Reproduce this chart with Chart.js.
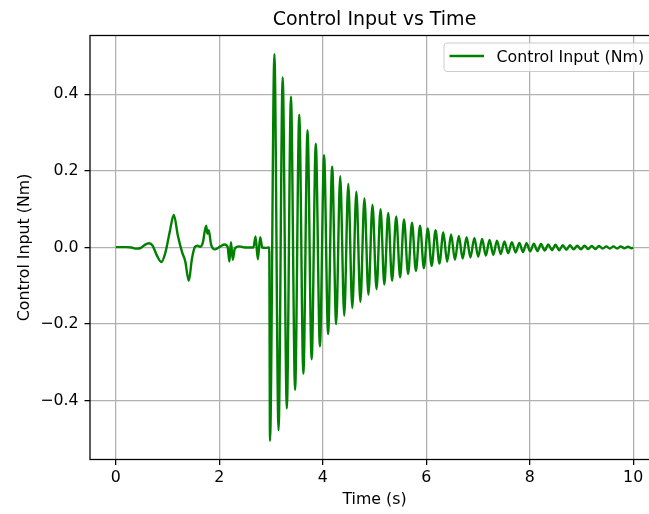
<!DOCTYPE html>
<html>
<head>
<meta charset="utf-8">
<title>Control Input vs Time</title>
<script src="https://cdn.jsdelivr.net/npm/chart.js@4"></script>
<style>
  html, body { margin: 0; padding: 0; background: #fff; overflow: hidden; }
  /* the figure is a little wider than the window; clip it like the original crop */
  #wrap { width: 649px; height: 514px; overflow: hidden; position: relative; }
  #chart { position: absolute; left: 0; top: 0; }
</style>
</head>
<body>
<div id="wrap"><canvas id="chart" width="659" height="514"></canvas></div>
<script>
// ── Data ─────────────────────────────────
// settling phase, 0 – 3 s
const earlyTime  = [0.00, 0.10, 0.20, 0.30, 0.40, 0.47, 0.55, 0.64, 0.71, 0.79, 0.88, 0.96,
                    1.04, 1.12, 1.20, 1.28, 1.34, 1.41, 1.47, 1.53, 1.58, 1.63, 1.68, 1.745,
                    1.77, 1.795, 1.84, 1.92, 2.02, 2.10, 2.16, 2.195, 2.225, 2.26, 2.30, 2.38,
                    2.50, 2.66, 2.70, 2.745, 2.79, 2.83, 2.90, 2.965];
const earlyInput = [0.001, 0.001, 0.001, 0.000, -0.003, -0.002, 0.006, 0.011, 0.005, -0.020, -0.038, -0.012,
                    0.040, 0.085, 0.030, -0.012, -0.035, -0.087, -0.030, 0.002, 0.005, 0.002, 0.012, 0.057,
                    0.036, 0.045, 0.008, -0.005, 0.003, 0.008, 0.002, -0.037, 0.014, -0.032, -0.003, 0.003,
                    0.000, 0.000, 0.029, -0.031, 0.027, 0.000, -0.001, 0.000];

// decaying oscillation after the kick at ~3 s (peaks / troughs)
const oscTime  = [2.98, 3.065, 3.145, 3.225, 3.305, 3.385, 3.465, 3.545, 3.625, 3.705, 3.785, 3.865,
                  3.945, 4.025, 4.103, 4.181, 4.259, 4.337, 4.415, 4.493, 4.571, 4.649, 4.727, 4.805,
                  4.883, 4.961, 5.039, 5.117, 5.19, 5.265, 5.34, 5.42, 5.495, 5.57, 5.65, 5.725,
                  5.80, 5.88, 5.955, 6.03, 6.105, 6.18, 6.255, 6.33, 6.405, 6.48, 6.555, 6.63,
                  6.705, 6.78, 6.855, 6.93, 7.005, 7.08, 7.152, 7.224, 7.296, 7.368, 7.44, 7.512,
                  7.584, 7.656, 7.728, 7.80, 7.87, 7.94, 8.01, 8.08, 8.15, 8.22, 8.29, 8.36,
                  8.43, 8.50, 8.57, 8.64, 8.71, 8.78, 8.85, 8.92, 8.99, 9.06, 9.13, 9.20,
                  9.27, 9.34, 9.41, 9.48, 9.55, 9.62, 9.69, 9.76, 9.83, 9.90, 9.97, 10.0];
const oscInput = [-0.505, 0.505, -0.477, 0.444, -0.420, 0.394, -0.372, 0.347, -0.330, 0.306, -0.292, 0.271,
                  -0.258, 0.241, -0.226, 0.211, -0.200, 0.186, -0.178, 0.166, -0.158, 0.146, -0.142, 0.128,
                  -0.123, 0.112, -0.109, 0.100, -0.097, 0.090, -0.087, 0.081, -0.078, 0.073, -0.069, 0.065,
                  -0.061, 0.057, -0.054, 0.050, -0.048, 0.045, -0.042, 0.039, -0.037, 0.034, -0.032, 0.030,
                  -0.029, 0.027, -0.026, 0.025, -0.024, 0.022, -0.021, 0.020, -0.019, 0.018, -0.017, 0.016,
                  -0.015, 0.014, -0.013, 0.012, -0.012, 0.011, -0.010, 0.010, -0.009, 0.009, -0.008, 0.008,
                  -0.007, 0.007, -0.007, 0.006, -0.006, 0.006, -0.005, 0.005, -0.005, 0.005, -0.004, 0.004,
                  -0.004, 0.004, -0.003, 0.003, -0.003, 0.003, -0.003, 0.003, -0.002, 0.002, -0.002, 0.000];

const xTicks = [0, 2, 4, 6, 8, 10];
const yTicks = [-0.4, -0.2, 0.0, 0.2, 0.4];

// ── Helpers ──────────────────────────────
const FONT  = "'DejaVu Sans', sans-serif";
const GREEN = "#008000";
const TICK_PX  = 15.8;   // 10pt at the figure's dpi
const TITLE_PX = 19;     // 12pt

const points = earlyTime.map((t, i) => ({ x: t, y: earlyInput[i] }))
  .concat(oscTime.map((t, i) => ({ x: t, y: oscInput[i] })));

const fmtY = v => (v < 0 ? "\u2212" : "") + Math.abs(v).toFixed(1);

// keep Chart.js from reserving room for edge labels
const noPad = s => { s.paddingLeft = 0; s.paddingRight = 0; s.paddingTop = 0; s.paddingBottom = 0; };

// axes frame (matplotlib style spines)
const frame = {
  id: "frame",
  afterDatasetsDraw(chart) {
    const { ctx, chartArea: a } = chart;
    ctx.save();
    ctx.strokeStyle = "#000";
    ctx.lineWidth = 1.27;
    ctx.strokeRect(a.left, a.top, a.right - a.left, a.bottom - a.top);
    ctx.restore();
  }
};

// legend drawn inside the axes, upper right
const boxLegend = {
  id: "boxLegend",
  afterDraw(chart) {
    const { ctx, chartArea: a } = chart;
    const ds = chart.data.datasets[0];
    const x = a.right - 215, y = a.top + 7.5, w = 207, h = 28.5;
    ctx.save();
    ctx.beginPath();
    ctx.roundRect(x, y, w, h, 3);
    ctx.fillStyle = "rgba(255,255,255,0.8)";
    ctx.fill();
    ctx.strokeStyle = "#cccccc";
    ctx.lineWidth = 1;
    ctx.stroke();

    ctx.beginPath();
    ctx.moveTo(x + 5.5, y + 13);
    ctx.lineTo(x + 40, y + 13);
    ctx.strokeStyle = ds.borderColor;
    ctx.lineWidth = 2.4;
    ctx.stroke();

    ctx.fillStyle = "#000";
    ctx.font = TICK_PX + "px " + FONT;
    ctx.textBaseline = "alphabetic";
    ctx.fillText(ds.label, x + 52.5, y + 19);
    ctx.restore();
  }
};

// ── Chart ────────────────────────────────
new Chart(document.getElementById("chart"), {
  type: "line",
  data: {
    datasets: [{
      label: "Control Input (Nm)",
      data: points,
      borderColor: GREEN,
      borderWidth: 2.4,
      pointRadius: 0,
      fill: false,
      cubicInterpolationMode: "monotone",
    }]
  },
  options: {
    responsive: false,
    animation: false,
    devicePixelRatio: 1,
    layout: { padding: 0, autoPadding: false },
    plugins: {
      legend: { display: false },
      tooltip: { enabled: false },
      title: {
        display: true,
        fullSize: false,
        text: "Control Input vs Time",
        color: "#000",
        font: { family: FONT, size: TITLE_PX, weight: "normal", lineHeight: 1.2 },
        padding: { top: 9, bottom: 3.7 },
      },
    },
    scales: {
      x: {
        type: "linear",
        min: -0.5,
        max: 10.5,
        afterBuildTicks: s => { s.ticks = xTicks.map(v => ({ value: v })); },
        afterFit: s => { s.height = 54.5; noPad(s); },
        ticks: {
          color: "#000",
          font: { family: FONT, size: TICK_PX, lineHeight: 1.2 },
          padding: 3.3,
          maxRotation: 0,
          callback: v => String(v),
        },
        grid: { color: "#b0b0b0", lineWidth: 1.27, tickLength: 5.5, tickColor: "#000", tickWidth: 1.27 },
        border: { display: false },
        title: {
          display: true,
          text: "Time (s)",
          color: "#000",
          font: { family: FONT, size: TICK_PX, lineHeight: 1.2 },
          padding: { top: 4, bottom: 4.7 },
        },
      },
      y: {
        type: "linear",
        min: -0.5535,
        max: 0.5535,
        afterBuildTicks: s => { s.ticks = yTicks.map(v => ({ value: v })); },
        afterFit: s => { s.width = 90; noPad(s); },
        ticks: {
          color: "#000",
          font: { family: FONT, size: TICK_PX, lineHeight: 1.2 },
          padding: 6,
          callback: v => fmtY(v),
        },
        grid: { color: "#b0b0b0", lineWidth: 1.27, tickLength: 5.5, tickColor: "#000", tickWidth: 1.27 },
        border: { display: false },
        title: {
          display: true,
          text: "Control Input (Nm)",
          color: "#000",
          font: { family: FONT, size: TICK_PX, lineHeight: 1.2 },
          padding: { top: 15, bottom: 4 },
        },
      },
    },
  },
  plugins: [frame, boxLegend],
});
</script>
</body>
</html>
